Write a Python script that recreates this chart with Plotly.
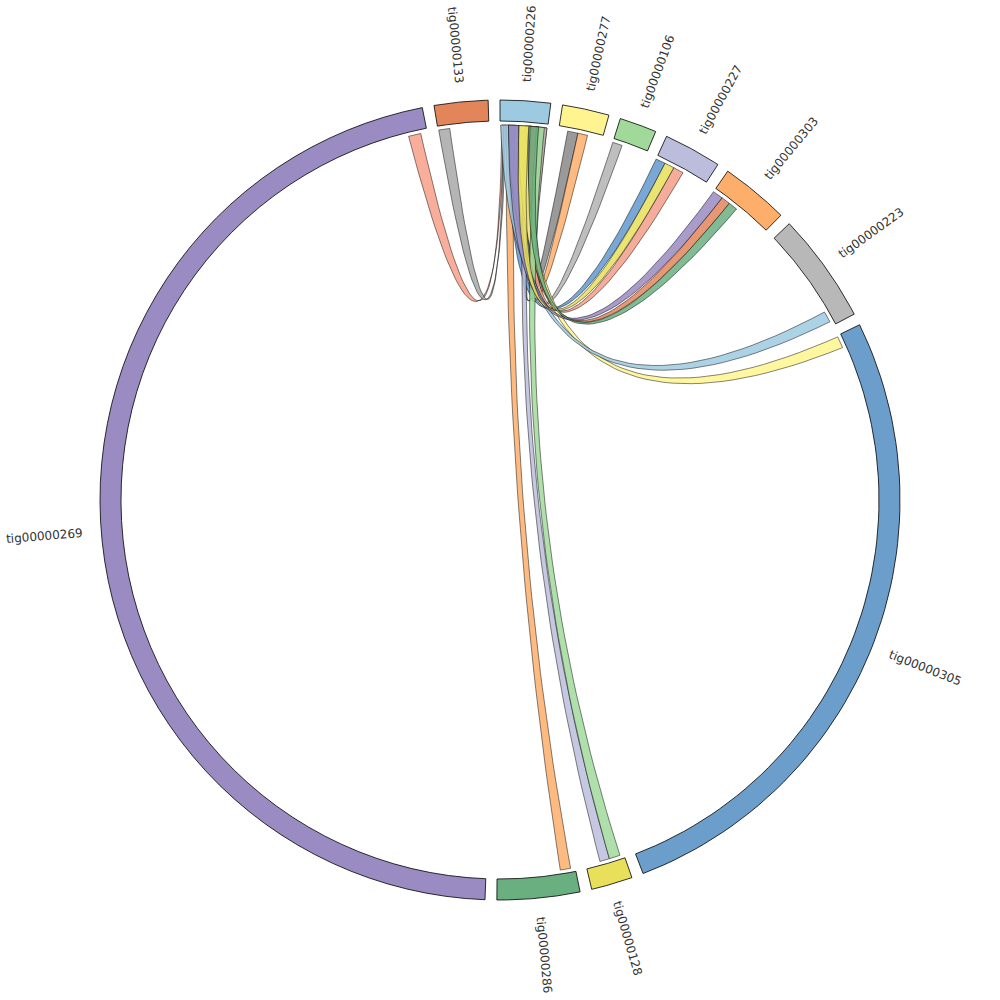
import numpy as np
import plotly.graph_objects as go

# contigs in drawing order (clockwise from 12 o'clock)
contigs = ['tig00000226', 'tig00000277', 'tig00000106', 'tig00000227', 'tig00000303',
           'tig00000223', 'tig00000305', 'tig00000128', 'tig00000286', 'tig00000269',
           'tig00000133']
contig_len = [730, 680, 540, 840, 990, 1600, 9500, 600, 1200, 16660, 780]
contig_colors = ['#9ecae1', '#fff48f', '#a1d99b', '#bcbddc', '#fdae6b', '#b8b8b8',
                 '#6b9ecb', '#e8df5a', '#6aaf80', '#9a8bc2', '#e3855b']

# links: every link has one end on tig00000226
hub = 'tig00000226'
hub_start = [30, 60, 440, 590, 600, 130, 290, 440, 130, 440, 460, 10, 290, 560, 390, 100]
hub_end = [60, 90, 590, 720, 720, 290, 440, 590, 290, 590, 590, 130, 440, 680, 480, 230]
link_target = ['tig00000269', 'tig00000133', 'tig00000277', 'tig00000277', 'tig00000106',
               'tig00000227', 'tig00000227', 'tig00000227', 'tig00000303', 'tig00000303',
               'tig00000303', 'tig00000223', 'tig00000305', 'tig00000128', 'tig00000128',
               'tig00000286']
target_start = [16370, 10, 140, 300, 0, 0, 150, 300, 0, 160, 300, 1360, 20, 60, 230, 70]
target_end = [16560, 180, 300, 450, 150, 150, 300, 460, 160, 300, 440, 1530, 200, 230, 380, 230]
link_colors = ['#f7a08a', '#a8a8a8', '#888888', '#fdae6b', '#b3b3b3', '#6299cf', '#e8df5a',
               '#f59d88', '#9a8bc2', '#e3855b', '#6aaf80', '#9ecae1', '#fff48f', '#a1d99b',
               '#bcbddc', '#fdae6b']
# drawing order so the right colours end up on top near the hub
link_order = [0, 1, 2, 3, 4, 15, 5, 7, 9, 14, 12, 13, 11, 8, 6, 10]

GAP = 1.7
R_OUT, R_IN, R_CH = 400, 379, 375
R_CTRL = 28
R_LABEL = 457

units_per_deg = sum(contig_len) / (360 - GAP * len(contigs))
seg_start = {}
a = 0.0
for name, ln in zip(contigs, contig_len):
    seg_start[name] = a
    a += ln / units_per_deg + GAP


def ang(contig, p):
    return seg_start[contig] + p / units_per_deg


def polar(r, deg):
    t = np.radians(deg)
    return r * np.sin(t), r * np.cos(t)


def arc(r, d0, d1, n=60):
    d = np.linspace(d0, d1, n)
    return polar(r, d)


def bezier(d0, d1, n=50):
    x0, y0 = polar(R_CH, d0)
    x2, y2 = polar(R_CH, d1)
    # control point a bit off centre for close ends, at the centre for opposite ends
    diff = (d1 - d0 + 180) % 360 - 180
    cx, cy = polar(R_CTRL * np.cos(np.radians(diff / 2)), d0 + diff / 2)
    t = np.linspace(0, 1, n)
    x = (1 - t) ** 2 * x0 + 2 * t * (1 - t) * cx + t ** 2 * x2
    y = (1 - t) ** 2 * y0 + 2 * t * (1 - t) * cy + t ** 2 * y2
    return x, y


def rgba(hex_color, alpha):
    h = hex_color.lstrip('#')
    return 'rgba(%d,%d,%d,%s)' % (int(h[0:2], 16), int(h[2:4], 16), int(h[4:6], 16), alpha)


fig = go.Figure()

# ribbons
for i in link_order:
    a0, a1 = ang(hub, hub_start[i]), ang(hub, hub_end[i])
    b0, b1 = ang(link_target[i], target_start[i]), ang(link_target[i], target_end[i])
    parts = [arc(R_CH, a0, a1, 10), bezier(a1, b0), arc(R_CH, b0, b1, 10), bezier(b1, a0)]
    xs = np.concatenate([p[0] for p in parts])
    ys = np.concatenate([p[1] for p in parts])
    fig.add_trace(go.Scatter(
        x=xs, y=ys, mode='lines', fill='toself',
        fillcolor=rgba(link_colors[i], 0.85),
        line=dict(color='rgba(0,0,0,0.8)', width=0.6),
        hoverinfo='skip', showlegend=False
    ))

# ideogram ring
for name, ln, col in zip(contigs, contig_len, contig_colors):
    d0, d1 = ang(name, 0), ang(name, ln)
    xo, yo = arc(R_OUT, d0, d1)
    xi, yi = arc(R_IN, d1, d0)
    xs = np.concatenate([xo, xi, xo[:1]])
    ys = np.concatenate([yo, yi, yo[:1]])
    fig.add_trace(go.Scatter(
        x=xs, y=ys, mode='lines', fill='toself', fillcolor=col,
        line=dict(color='black', width=0.8),
        hoverinfo='skip', showlegend=False
    ))

    mid = (d0 + d1) / 2
    lx, ly = polar(R_LABEL, mid)
    tangle = mid - 90 if mid < 180 else mid - 270
    fig.add_annotation(
        x=lx, y=ly, text=name, showarrow=False, textangle=tangle,
        xanchor='center', yanchor='middle',
        font=dict(family='DejaVu Sans', size=12, color='#333333')
    )

fig.update_xaxes(range=[-500, 500], visible=False, fixedrange=True)
fig.update_yaxes(range=[-500, 500], visible=False, fixedrange=True)
fig.update_layout(
    width=1000, height=1000,
    margin=dict(l=0, r=0, t=0, b=0),
    plot_bgcolor='white',
    paper_bgcolor='white'
)
# drop the default page margin so the 1000px figure fills the window
fig.write_html('out.html', config={'displayModeBar': False},
               post_script="document.body.style.margin='0';")
